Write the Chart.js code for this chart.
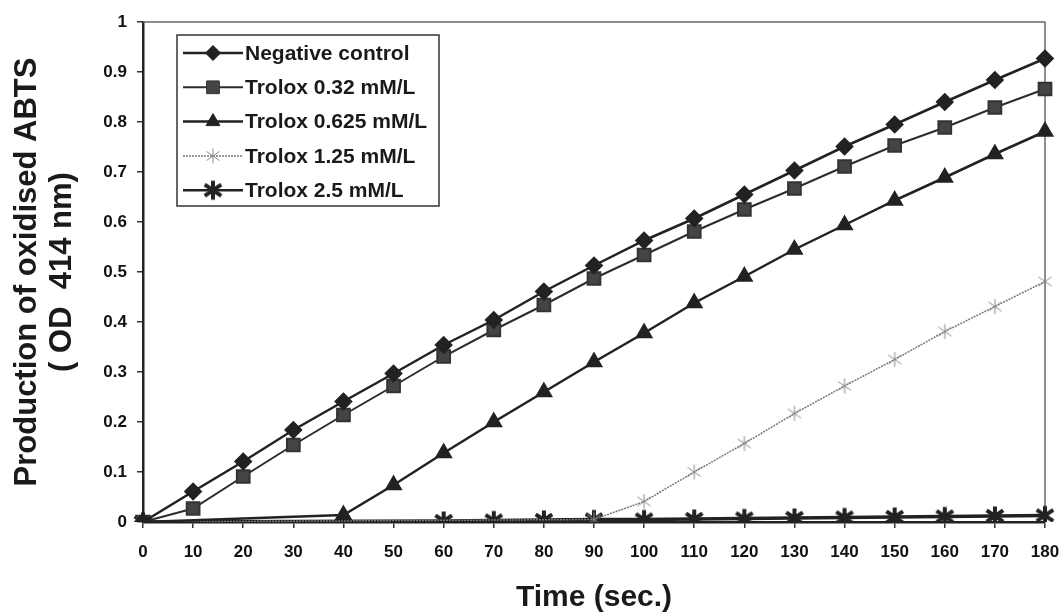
<!DOCTYPE html>
<html>
<head>
<meta charset="utf-8">
<script src="https://cdn.jsdelivr.net/npm/chart.js@4.4.1/dist/chart.umd.min.js"></script>
<style>
  body { margin: 0; background: #fff; }
  #wrap { width: 1064px; height: 616px; }
</style>
</head>
<body>
<div id="wrap"><canvas id="abtsChart" width="1064" height="616"></canvas></div>
<script>
// tempo (s) e absorbância
const tempos = [0, 10, 20, 30, 40, 50, 60, 70, 80, 90, 100, 110, 120, 130, 140, 150, 160, 170, 180];
const controleNegativo = [0, 0.061, 0.121, 0.184, 0.241, 0.297, 0.354, 0.404, 0.461, 0.513, 0.563, 0.607, 0.655, 0.703, 0.751, 0.795, 0.840, 0.884, 0.927];
const trolox032 = [0, 0.027, 0.091, 0.154, 0.214, 0.272, 0.331, 0.384, 0.434, 0.487, 0.534, 0.581, 0.625, 0.667, 0.711, 0.753, 0.789, 0.829, 0.866];
const trolox0625 = [0, null, null, null, 0.014, 0.074, 0.138, 0.200, 0.260, 0.320, 0.378, 0.438, 0.491, 0.545, 0.594, 0.643, 0.689, 0.736, 0.781];
const trolox125 = [0, null, null, null, null, null, null, null, null, 0.005, 0.041, 0.100, 0.157, 0.217, 0.272, 0.325, 0.381, 0.431, 0.481];
const trolox25 = [0, null, null, null, null, null, 0.002, 0.003, 0.004, 0.005, 0.005, 0.006, 0.007, 0.008, 0.009, 0.010, 0.011, 0.012, 0.013];
const nomesSeries = ['Negative control', 'Trolox 0.32 mM/L', 'Trolox 0.625 mM/L', 'Trolox 1.25 mM/L', 'Trolox 2.5 mM/L'];

const fonte = "Arial, 'Liberation Sans', sans-serif";

// asterisco (linha vertical + X) desenhado num canvas pequeno
function criaAsterisco(tam, cor, espessura) {
    const c = document.createElement('canvas');
    c.width = tam; c.height = tam;
    const g = c.getContext('2d');
    const m = tam / 2, r = tam / 2 - 1.5;
    g.strokeStyle = cor;
    g.lineWidth = espessura;
    g.beginPath();
    g.moveTo(m, m - r); g.lineTo(m, m + r);
    g.moveTo(m - r * 0.87, m - r * 0.6); g.lineTo(m + r * 0.87, m + r * 0.6);
    g.moveTo(m - r * 0.87, m + r * 0.6); g.lineTo(m + r * 0.87, m - r * 0.6);
    g.stroke();
    return c;
}

const asteriscoEscuro = criaAsterisco(22, '#222', 4);
const asteriscoClaro = criaAsterisco(18, '#8a8a8a', 1);

// moldura superior/direita da área do gráfico
const moldura = {
    id: 'moldura',
    beforeDatasetsDraw(chart) {
        const a = chart.chartArea, ctx = chart.ctx;
        ctx.save();
        ctx.strokeStyle = '#6a6a6a';
        ctx.lineWidth = 1.5;
        ctx.beginPath();
        ctx.moveTo(a.left, a.top);
        ctx.lineTo(a.right, a.top);
        ctx.lineTo(a.right, a.bottom);
        ctx.stroke();
        ctx.restore();
    }
};

// legenda no estilo "linha-marcador-linha"
const legendaCaixa = {
    id: 'legendaCaixa',
    afterDatasetsDraw(chart) {
        const ctx = chart.ctx;
        const x0 = 177, y0 = 35, w = 262, h = 171, passo = 34.3;
        ctx.save();
        ctx.fillStyle = '#fff';
        ctx.fillRect(x0, y0, w, h);
        ctx.strokeStyle = '#333';
        ctx.lineWidth = 1.5;
        ctx.strokeRect(x0, y0, w, h);
        chart.data.datasets.forEach((ds, i) => {
            const y = y0 + 18 + i * passo;
            ctx.strokeStyle = ds.borderColor;
            ctx.lineWidth = Math.min(ds.borderWidth, 2.5);
            ctx.setLineDash(ds.borderDash || []);
            ctx.beginPath();
            ctx.moveTo(x0 + 6, y);
            ctx.lineTo(x0 + 66, y);
            ctx.stroke();
            ctx.setLineDash([]);
            ctx.fillStyle = ds.pointBackgroundColor;
            ctx.strokeStyle = ds.pointBorderColor;
            ctx.lineWidth = 1;
            Chart.helpers.drawPoint(ctx, {
                pointStyle: ds.pointStyle, radius: ds.pointRadius, rotation: 0, borderWidth: 1
            }, x0 + 36, y);
            ctx.fillStyle = '#1a1a1a';
            ctx.font = 'bold 21px ' + fonte;
            ctx.textBaseline = 'middle';
            ctx.fillText(ds.label, x0 + 68, y + 1);
        });
        ctx.restore();
    }
};

const ctx = document.getElementById('abtsChart').getContext('2d');

new Chart(ctx, {
    type: 'line',
    data: {
        labels: tempos,
        datasets: [{
            label: nomesSeries[0],
            data: controleNegativo,
            borderColor: '#222', borderWidth: 2.5,
            pointStyle: 'rectRot', pointRadius: 7.5,
            pointBackgroundColor: '#222', pointBorderColor: '#222'
        }, {
            label: nomesSeries[1],
            data: trolox032,
            borderColor: '#2c2c2c', borderWidth: 2,
            pointStyle: 'rect', pointRadius: 9,
            pointBackgroundColor: '#444', pointBorderColor: '#333'
        }, {
            label: nomesSeries[2],
            data: trolox0625,
            borderColor: '#222', borderWidth: 2.5,
            pointStyle: 'triangle', pointRadius: 8,
            pointBackgroundColor: '#222', pointBorderColor: '#222'
        }, {
            label: nomesSeries[3],
            data: trolox125,
            borderColor: '#777', borderWidth: 1.5, borderDash: [2, 1],
            pointStyle: asteriscoClaro, pointRadius: 8,
            pointBackgroundColor: '#888', pointBorderColor: '#888'
        }, {
            label: nomesSeries[4],
            data: trolox25,
            borderColor: '#222', borderWidth: 3.5,
            pointStyle: asteriscoEscuro, pointRadius: 10,
            pointBackgroundColor: '#222', pointBorderColor: '#222'
        }]
    },
    options: {
        responsive: false,
        animation: false,
        spanGaps: true,
        layout: { padding: { top: 22, right: 19, left: 0, bottom: 0 } },
        plugins: {
            legend: { display: false },
            tooltip: { enabled: false }
        },
        scales: {
            x: {
                offset: false,
                afterFit: function(s) { s.height = 94; s.paddingLeft = 0; s.paddingRight = 0; },
                grid: { drawOnChartArea: false, drawTicks: true, tickLength: 6, color: '#333', lineWidth: 1.5 },
                border: { display: true, color: '#222', width: 2.5 },
                ticks: { color: '#111', font: { family: fonte, size: 17, weight: 'bold' }, padding: 14, maxRotation: 0, autoSkip: false },
                title: {
                    display: true, text: 'Time (sec.)', color: '#1a1a1a',
                    font: { family: fonte, size: 30, weight: 'bold' }, padding: { top: 0, bottom: 0 }
                }
            },
            y: {
                min: 0, max: 1,
                afterFit: function(s) { s.width = 143; s.paddingTop = 0; s.paddingBottom = 0; },
                grid: { drawOnChartArea: false, drawTicks: true, tickLength: 6, color: '#333', lineWidth: 1.5 },
                border: { display: true, color: '#222', width: 2.5 },
                ticks: {
                    stepSize: 0.1, color: '#111', font: { family: fonte, size: 17, weight: 'bold' }, padding: 10,
                    callback: function(v) { return String(Number(v.toFixed(1))); }
                },
                title: {
                    display: true, text: ['Production of oxidised ABTS', '( OD  414 nm)'], color: '#1a1a1a',
                    font: { family: fonte, size: 31, weight: 'bold', lineHeight: 1.12 }, padding: { top: 10, bottom: 0 }
                }
            }
        }
    },
    plugins: [moldura, legendaCaixa]
});
</script>
</body>
</html>
